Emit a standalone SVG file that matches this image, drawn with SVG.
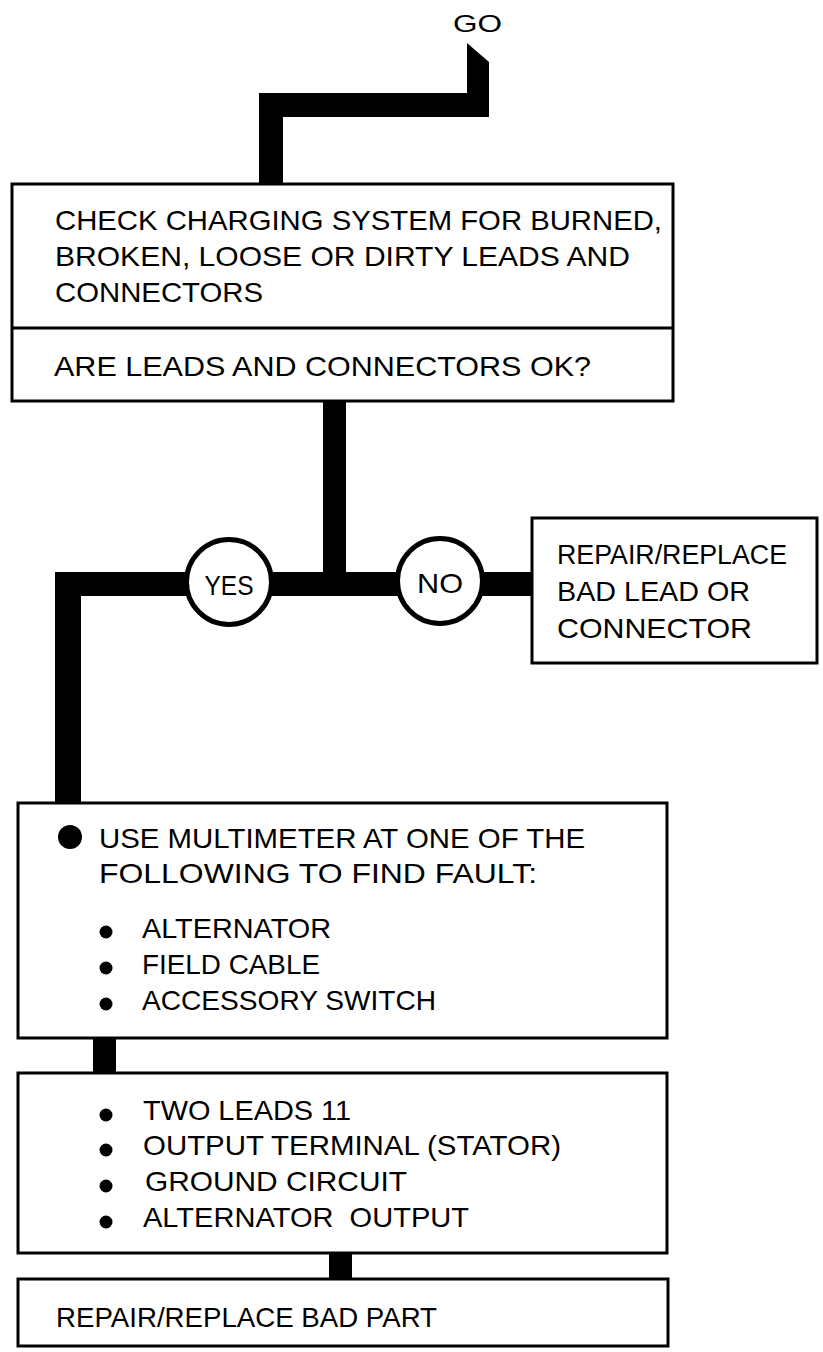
<svg xmlns="http://www.w3.org/2000/svg" width="823" height="1352" viewBox="0 0 823 1352">
<style>
.box{fill:#fff;stroke:#000;stroke-width:3}
.t{font-family:"Liberation Sans",Arial,sans-serif;font-size:28px;fill:#000}
.bar{fill:#000}
.dec{fill:#fff;stroke:#000;stroke-width:5}
</style>
<rect width="823" height="1352" fill="#fff"/>
<g id="connectors">
<polygon class="bar" points="467,43 489,62 489,117 283,117 283,184 259,184 259,93 467,93"/>
<rect class="bar" x="323" y="400" width="23" height="184"/>
<rect class="bar" x="55" y="572" width="478" height="24"/>
<rect class="bar" x="55" y="572" width="26" height="232"/>
<rect class="bar" x="93" y="1037" width="23" height="37"/>
<rect class="bar" x="329" y="1252" width="23" height="28"/>
</g>
<g id="go"><text class="t" x="453" y="32" textLength="49" lengthAdjust="spacingAndGlyphs" style="font-size:24px">GO</text></g>
<g id="check">
<rect class="box" x="12" y="184" width="661" height="217"/>
<line x1="12" y1="328" x2="673" y2="328" stroke="#000" stroke-width="3"/>
<text class="t" x="55" y="230" textLength="607" lengthAdjust="spacingAndGlyphs">CHECK CHARGING SYSTEM FOR BURNED,</text>
<text class="t" x="55" y="266" textLength="575" lengthAdjust="spacingAndGlyphs">BROKEN, LOOSE OR DIRTY LEADS AND</text>
<text class="t" x="55" y="302" textLength="208" lengthAdjust="spacingAndGlyphs">CONNECTORS</text>
<text class="t" x="54" y="376" textLength="537" lengthAdjust="spacingAndGlyphs">ARE LEADS AND CONNECTORS OK?</text>
</g>
<g id="yes">
<circle class="dec" cx="229" cy="582" r="42.5"/>
<text class="t" x="229" y="595" text-anchor="middle" textLength="49" lengthAdjust="spacingAndGlyphs">YES</text>
</g>
<g id="no">
<circle class="dec" cx="440" cy="581" r="42.5"/>
<text class="t" x="440" y="593" text-anchor="middle" textLength="46" lengthAdjust="spacingAndGlyphs">NO</text>
</g>
<g id="repair-lead">
<rect class="box" x="532" y="518" width="285" height="145"/>
<text class="t" x="557" y="564" textLength="230" lengthAdjust="spacingAndGlyphs">REPAIR/REPLACE</text>
<text class="t" x="557" y="601" textLength="193" lengthAdjust="spacingAndGlyphs">BAD LEAD OR</text>
<text class="t" x="557" y="638" textLength="195" lengthAdjust="spacingAndGlyphs">CONNECTOR</text>
</g>
<g id="multimeter">
<rect class="box" x="18" y="803" width="649" height="235"/>
<circle cx="70" cy="837" r="12"/>
<text class="t" x="99" y="848" textLength="486" lengthAdjust="spacingAndGlyphs">USE MULTIMETER AT ONE OF THE</text>
<text class="t" x="99" y="883" textLength="438" lengthAdjust="spacingAndGlyphs">FOLLOWING TO FIND FAULT:</text>
<circle cx="106" cy="932" r="6.5"/>
<text class="t" x="142" y="938" textLength="189" lengthAdjust="spacingAndGlyphs">ALTERNATOR</text>
<circle cx="106" cy="968" r="6.5"/>
<text class="t" x="142" y="974" textLength="178" lengthAdjust="spacingAndGlyphs">FIELD CABLE</text>
<circle cx="106" cy="1004" r="6.5"/>
<text class="t" x="142" y="1010" textLength="294" lengthAdjust="spacingAndGlyphs">ACCESSORY SWITCH</text>
</g>
<g id="points">
<rect class="box" x="18" y="1073" width="649" height="180"/>
<circle cx="106" cy="1115" r="6.5"/>
<text class="t" x="143" y="1120" textLength="208" lengthAdjust="spacingAndGlyphs">TWO LEADS 11</text>
<circle cx="106" cy="1150" r="6.5"/>
<text class="t" x="143" y="1155" textLength="418" lengthAdjust="spacingAndGlyphs">OUTPUT TERMINAL (STATOR)</text>
<circle cx="106" cy="1186" r="6.5"/>
<text class="t" x="145" y="1191" textLength="262" lengthAdjust="spacingAndGlyphs">GROUND CIRCUIT</text>
<circle cx="106" cy="1222" r="6.5"/>
<text class="t" x="143" y="1227" textLength="326" lengthAdjust="spacingAndGlyphs" style="white-space:pre">ALTERNATOR  OUTPUT</text>
</g>
<g id="repair-part">
<rect class="box" x="18" y="1279" width="650" height="67"/>
<text class="t" x="56" y="1327" textLength="381" lengthAdjust="spacingAndGlyphs">REPAIR/REPLACE BAD PART</text>
</g>
</svg>
